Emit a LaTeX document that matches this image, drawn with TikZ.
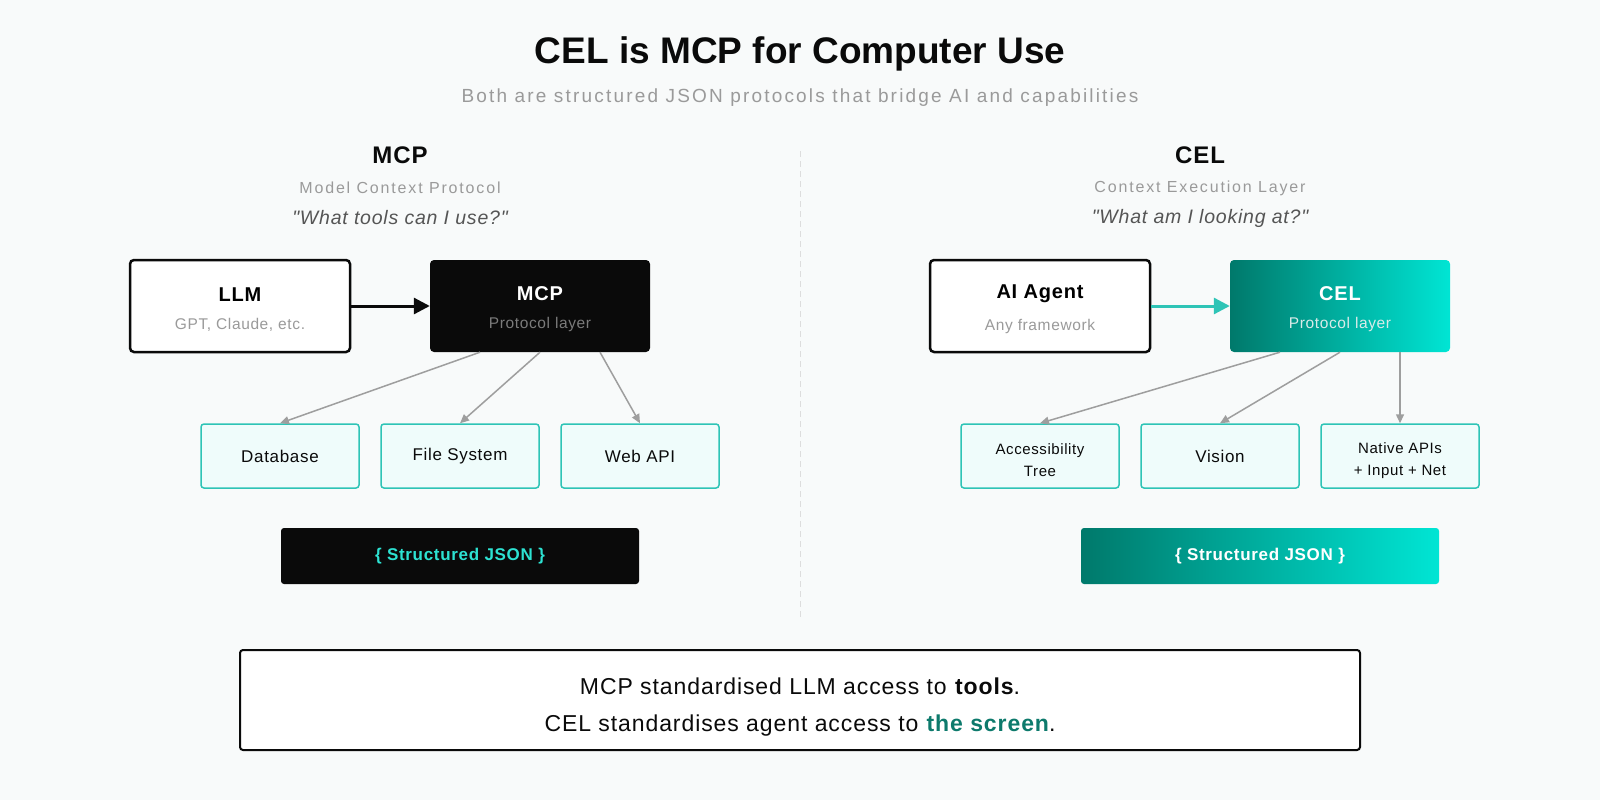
\documentclass[tikz,border=0pt]{standalone}
\usepackage{fontspec}
\setmainfont{Liberation Sans}[LetterSpace=4,Ligatures=TeXOff]
\newfontfamily\titlefont{Liberation Sans}[Ligatures=TeXOff]
\newfontfamily\airyfont{Liberation Sans}[LetterSpace=11.5,Ligatures=TeXOff]
\usetikzlibrary{arrows.meta,positioning,calc}
\definecolor{page}{HTML}{F8FAFA}
\definecolor{ink}{HTML}{0A0A0A}
\definecolor{mute}{HTML}{9A9A9A}
\definecolor{quote}{HTML}{555555}
\definecolor{rule}{HTML}{DDDDDD}
\definecolor{tealline}{HTML}{2EC4B6}
\definecolor{softcyan}{HTML}{EFFCFB}
\definecolor{deepteal}{HTML}{00796B}
\definecolor{brightcyan}{HTML}{00E5D4}
\definecolor{jsoncyan}{HTML}{2DE2D2}
\definecolor{screen}{HTML}{0D7A6C}
\definecolor{arrowgray}{HTML}{9E9E9E}
\newcommand{\lift}[1]{\rule{0pt}{#1}}

\begin{document}
\begin{tikzpicture}[x=1pt,y=-1pt,
  card/.style={draw=ink,line width=2.5pt,fill=white,rounded corners=4pt,align=center,minimum width=220pt,minimum height=92pt,inner sep=0pt},
  core/.style={fill=ink,text=white,rounded corners=4pt,align=center,minimum width=220pt,minimum height=92pt,inner sep=0pt},
  celcore/.style={left color=deepteal,right color=brightcyan,text=white,rounded corners=4pt,align=center,minimum width=220pt,minimum height=92pt,inner sep=0pt},
  capbox/.style={draw=tealline,line width=1.5pt,fill=softcyan,rounded corners=3pt,align=center,minimum width=158pt,minimum height=64pt,inner sep=0pt,font=\fontsize{17}{22}\selectfont,text=ink},
  json/.style={rounded corners=3pt,minimum width=358pt,minimum height=56pt,inner sep=0pt,font=\fontsize{17}{20}\selectfont\bfseries},
  head/.style={font=\fontsize{24}{28}\selectfont\bfseries,text=ink},
  subtext/.style={font=\fontsize{16}{19}\selectfont\airyfont,text=mute},
  ask/.style={font=\fontsize{19.5}{23}\selectfont\itshape,text=quote},
  blk/.style={-{Triangle[length=16pt,width=16pt]},draw=ink,line width=3pt},
  tl/.style={-{Triangle[length=16pt,width=16pt]},draw=tealline,line width=3pt},
  fan/.style={-{Triangle[length=9pt,width=8pt]},draw=arrowgray,line width=1.5pt}
]
\fill[page] (0,0) rectangle (1600,800);
\node[font=\fontsize{37}{42}\selectfont\titlefont\bfseries,text=ink] (title) at (800,54) {CEL is MCP for Computer Use};
\node[font=\fontsize{19}{23}\selectfont\airyfont,text=mute] (tagline) at (800,98) {Both are structured JSON protocols that bridge AI and capabilities};
\draw[rule,line width=1pt,dash pattern=on 6pt off 4pt] (800,151) -- (800,617);
% left column
\node[head] (mcph) at (400,155) {MCP};
\node[subtext] (mcpsub) at (400,188) {Model Context Protocol};
\node[ask] (mcpask) at (400,218) {"What tools can I use?"};
\node[card] (llm) at (240,306) {\lift{20pt}{\fontsize{20}{24}\selectfont\bfseries LLM}\\[16pt]{\fontsize{15.5}{18}\selectfont\color{mute}GPT, Claude, etc.}};
\node[core] (mcp) at (540,306) {\lift{20pt}{\fontsize{20}{24}\selectfont\bfseries MCP}\\[16pt]{\fontsize{15.5}{18}\selectfont\color{mute!80!black}Protocol layer}};
\node[capbox] (db) at (280,456) {Database};
\node[capbox] (fs) at (460,456) {File System};
\node[capbox] (web) at (640,456) {Web API};
\node[json,fill=ink,text=jsoncyan] (mcpjson) at (460,556) {\{ Structured JSON \}};
\draw[blk] (llm) -- (mcp);
\draw[fan] ([xshift=-60pt]mcp.south) -- (db.north);
\draw[fan] (mcp.south) -- (fs.north);
\draw[fan] ([xshift=60pt]mcp.south) -- (web.north);
% right column
\node[head] (celh) at (1200,155) {CEL};
\node[subtext] (celsub) at (1200,188) {Context Execution Layer};
\node[ask] (celask) at (1200,218) {"What am I looking at?"};
\node[card] (agent) at (1040,306) {\lift{20pt}{\fontsize{20}{24}\selectfont\bfseries AI Agent}\\[16pt]{\fontsize{15.5}{18}\selectfont\color{mute}Any framework}};
\node[celcore] (cel) at (1340,306) {\lift{20pt}{\fontsize{20}{24}\selectfont\bfseries CEL}\\[16pt]{\fontsize{15.5}{18}\selectfont\color{white!85!deepteal}Protocol layer}};
\node[capbox,font=\fontsize{15}{22}\selectfont] (tree) at (1040,456) {\lift{20pt}Accessibility\\Tree};
\node[capbox] (vision) at (1220,456) {Vision};
\node[capbox,font=\fontsize{15}{22}\selectfont] (native) at (1400,456) {\lift{20pt}Native APIs\\+ Input + Net};
\node[json,left color=deepteal,right color=brightcyan,text=white] (celjson) at (1260,556) {\{ Structured JSON \}};
\draw[tl] (agent) -- (cel);
\draw[fan] ([xshift=-60pt]cel.south) -- (tree.north);
\draw[fan] (cel.south) -- (vision.north);
\draw[fan] ([xshift=60pt]cel.south) -- (native.north);
% summary
\node[draw=ink,line width=2pt,fill=white,rounded corners=3pt,minimum width=1120pt,minimum height=100pt,align=center,font=\fontsize{23}{37}\selectfont,text=ink] (summary) at (800,700)
  {\lift{30pt}MCP standardised LLM access to \textbf{tools}.\\CEL standardises agent access to \textbf{\color{screen}the screen}.};
\end{tikzpicture}
\end{document}
